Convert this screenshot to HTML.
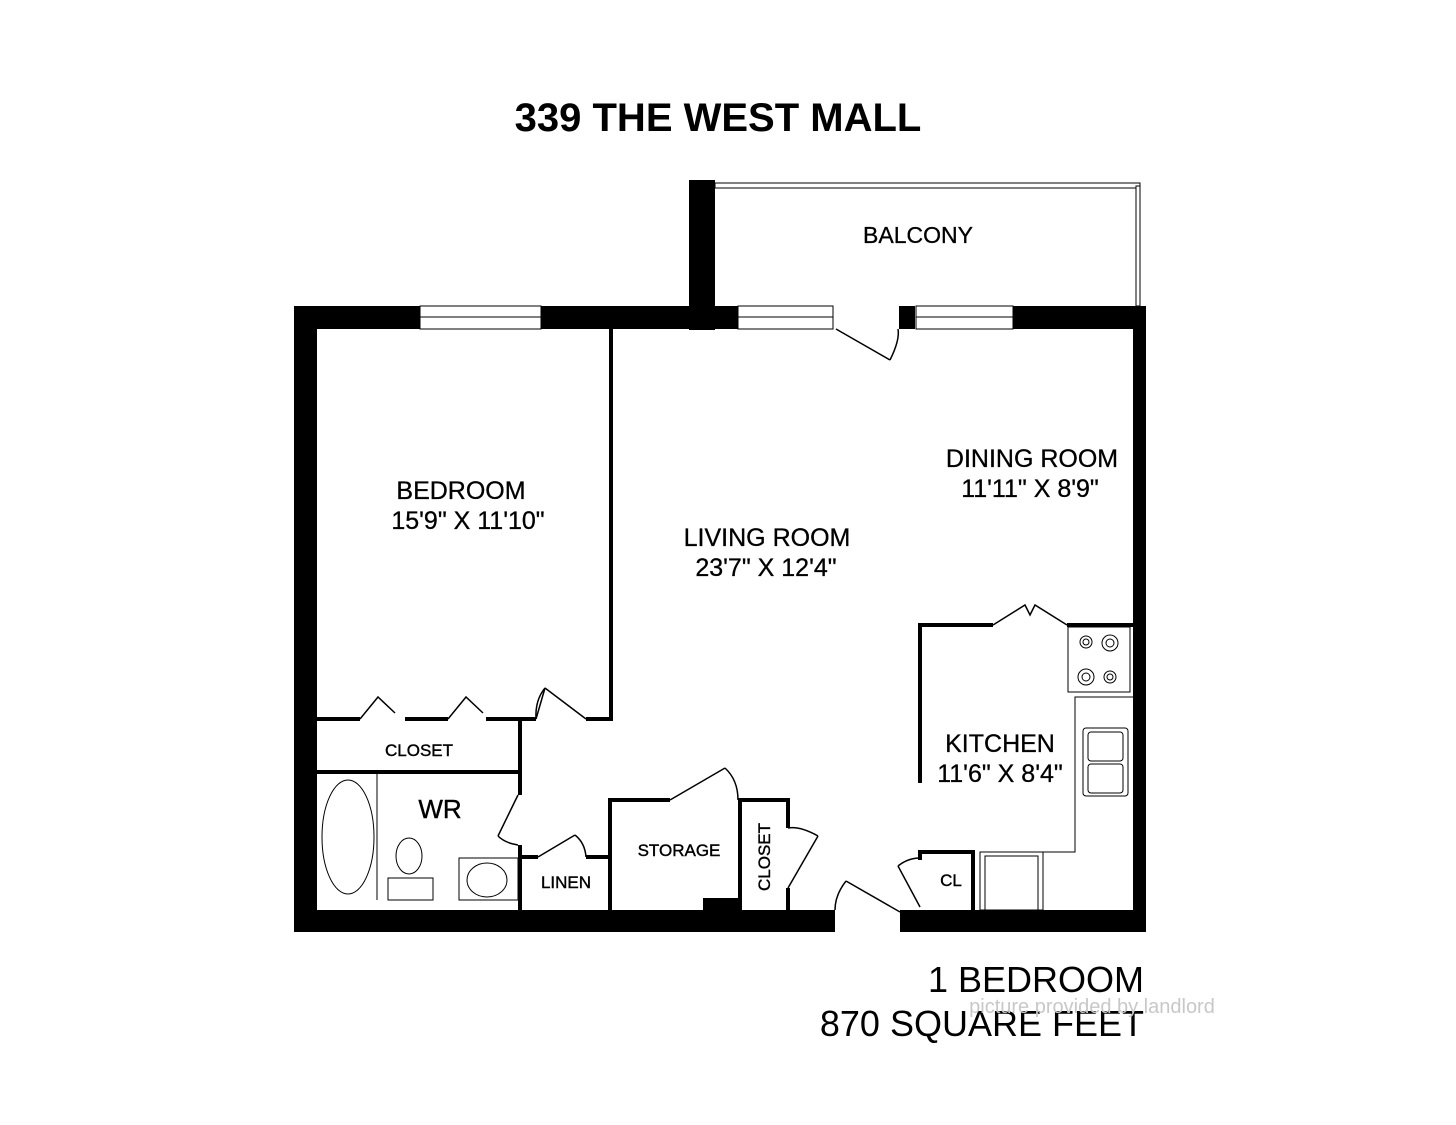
<!DOCTYPE html>
<html><head><style>
html,body{margin:0;padding:0;background:#fff;}
svg{display:block;}
text{font-family:"Liberation Sans",Arial,sans-serif;fill:#000;}
</style></head><body>
<svg width="1456" height="1125" viewBox="0 0 1456 1125" xmlns="http://www.w3.org/2000/svg">
<rect width="1456" height="1125" fill="#fff"/>
<text x="718" y="131" font-size="40" font-weight="bold" text-anchor="middle">339 THE WEST MALL</text>

<!-- balcony -->
<rect x="689" y="180" width="26" height="150" fill="#000"/>
<rect x="715" y="183" width="425" height="5" fill="#fff" stroke="#000" stroke-width="1"/>
<rect x="1136" y="186" width="4" height="120" fill="#fff" stroke="#000" stroke-width="1"/>
<text x="918" y="243" font-size="23" text-anchor="middle" stroke="#000" stroke-width="0.3">BALCONY</text>

<g fill="#000">
<rect x="294" y="306" width="126" height="23"/>
<rect x="541" y="306" width="197" height="23"/>
<rect x="899" y="306" width="16" height="23"/>
<rect x="1013" y="306" width="133" height="23"/>
<rect x="294" y="306" width="23" height="626"/>
<rect x="1133" y="306" width="13" height="626"/>
<rect x="294" y="910" width="541" height="22"/>
<rect x="900" y="910" width="246" height="22"/>
<rect x="703" y="898" width="37" height="12"/>
</g>
<g fill="#fff" stroke="#000" stroke-width="1">
<rect x="420" y="306" width="121" height="23"/><line x1="420" y1="317" x2="541" y2="317"/>
<rect x="738" y="306" width="95" height="23"/><line x1="738" y1="317" x2="833" y2="317"/>
<rect x="916" y="306" width="97" height="23"/><line x1="916" y1="317" x2="1013" y2="317"/>
</g>
<g fill="none" stroke="#000" stroke-width="1.5">
<line x1="836" y1="329" x2="890" y2="360"/><path d="M890 360 Q900 340 898 329"/>
</g>

<g fill="#000">
<rect x="609" y="329" width="4" height="391"/>
<rect x="317" y="717" width="43" height="4"/>
<rect x="405" y="717" width="43" height="4"/>
<rect x="486" y="717" width="50" height="4"/>
<rect x="586" y="717" width="27" height="4"/>
<rect x="317" y="770" width="205" height="4"/>
<rect x="518" y="717" width="4" height="78"/>
<rect x="518" y="845" width="4" height="65"/>
<rect x="522" y="855" width="16" height="4"/>
<rect x="586" y="855" width="24" height="4"/>
<rect x="608" y="798" width="4" height="112"/>
<rect x="608" y="798" width="62" height="4"/>
<rect x="738" y="798" width="4" height="112"/>
<rect x="738" y="798" width="50" height="4"/>
<rect x="786" y="798" width="4" height="30"/>
<rect x="786" y="888" width="4" height="22"/>
<rect x="918" y="623" width="4" height="160"/>
<rect x="918" y="623" width="75" height="4"/>
<rect x="1067" y="623" width="70" height="4"/>
<rect x="918" y="850" width="4" height="10"/>
<rect x="918" y="850" width="57" height="4"/>
<rect x="971" y="850" width="4" height="60"/>
</g>
<g fill="none" stroke="#000" stroke-width="1.5">
<polyline points="360,719 378,697 395,713"/>
<polyline points="448,719 466,697 483,713"/>
<line x1="536" y1="719" x2="545" y2="688"/><line x1="545" y1="688" x2="586" y2="719"/>
<path d="M536 719 Q535 700 545 688"/>
<line x1="518" y1="795" x2="498" y2="836"/><path d="M498 836 Q505 843 518 845"/>
<line x1="538" y1="857" x2="575" y2="835"/><path d="M575 835 Q585 843 586 857"/>
<line x1="670" y1="800" x2="725" y2="768"/><path d="M725 768 Q738 780 738 800"/>
<line x1="788" y1="888" x2="818" y2="836"/><path d="M818 836 Q800 826 788 828"/>
<line x1="900" y1="912" x2="846" y2="881"/><path d="M846 881 Q835 895 835 910"/>
<polyline points="993,625 1025,605 1030,615 1035,605 1067,625"/>
<line x1="920" y1="907" x2="898" y2="866"/><path d="M898 866 Q908 858 920 858"/>
</g>
<g fill="none" stroke="#000" stroke-width="1">
<line x1="377" y1="774" x2="377" y2="900"/>
<ellipse cx="348" cy="837" rx="26" ry="57"/>
<ellipse cx="409" cy="856" rx="13" ry="18"/>
<rect x="388" y="878" width="45" height="22"/>
<rect x="459" y="858" width="59" height="42"/>
<ellipse cx="487" cy="880" rx="20" ry="17"/>
<rect x="1068" y="627" width="62" height="65"/>
<circle cx="1086" cy="642" r="6"/><circle cx="1086" cy="642" r="3"/>
<circle cx="1110" cy="643" r="8"/><circle cx="1110" cy="643" r="4"/>
<circle cx="1086" cy="677" r="8"/><circle cx="1086" cy="677" r="4"/>
<circle cx="1110" cy="677" r="6"/><circle cx="1110" cy="677" r="3"/>
<polyline points="1133,697 1075,697 1075,852 1043,852"/>
<rect x="1083" y="728" width="45" height="68" rx="3"/>
<rect x="1088" y="732" width="35" height="29" rx="3"/>
<rect x="1088" y="764" width="35" height="29" rx="3"/>
<rect x="980" y="852" width="63" height="58"/>
<rect x="985" y="856" width="53" height="54"/>
</g>

<g font-size="25" text-anchor="middle" stroke="#000" stroke-width="0.3">
<text x="461" y="499">BEDROOM</text>
<text x="468" y="529">15'9" X 11'10"</text>
<text x="767" y="546">LIVING ROOM</text>
<text x="766" y="576">23'7" X 12'4"</text>
<text x="1032" y="467">DINING ROOM</text>
<text x="1030" y="497">11'11" X 8'9"</text>
<text x="1000" y="752">KITCHEN</text>
<text x="1000" y="782">11'6" X 8'4"</text>
</g>
<g font-size="17" text-anchor="middle" stroke="#000" stroke-width="0.4">
<text x="419" y="756">CLOSET</text>
<text x="566" y="888">LINEN</text>
<text x="679" y="856">STORAGE</text>
<text x="951" y="886">CL</text>
<text transform="translate(770,857) rotate(-90)">CLOSET</text>
</g>
<text x="440" y="818" font-size="26" text-anchor="middle" stroke="#000" stroke-width="0.4">WR</text>

<text x="1144" y="992" font-size="36" text-anchor="end">1 BEDROOM</text>
<text x="1144" y="1036" font-size="36" text-anchor="end">870 SQUARE FEET</text>
<text x="1092" y="1013" font-size="20" text-anchor="middle" style="fill:#c8c8c8">picture provided by landlord</text>
</svg>
</body></html>
